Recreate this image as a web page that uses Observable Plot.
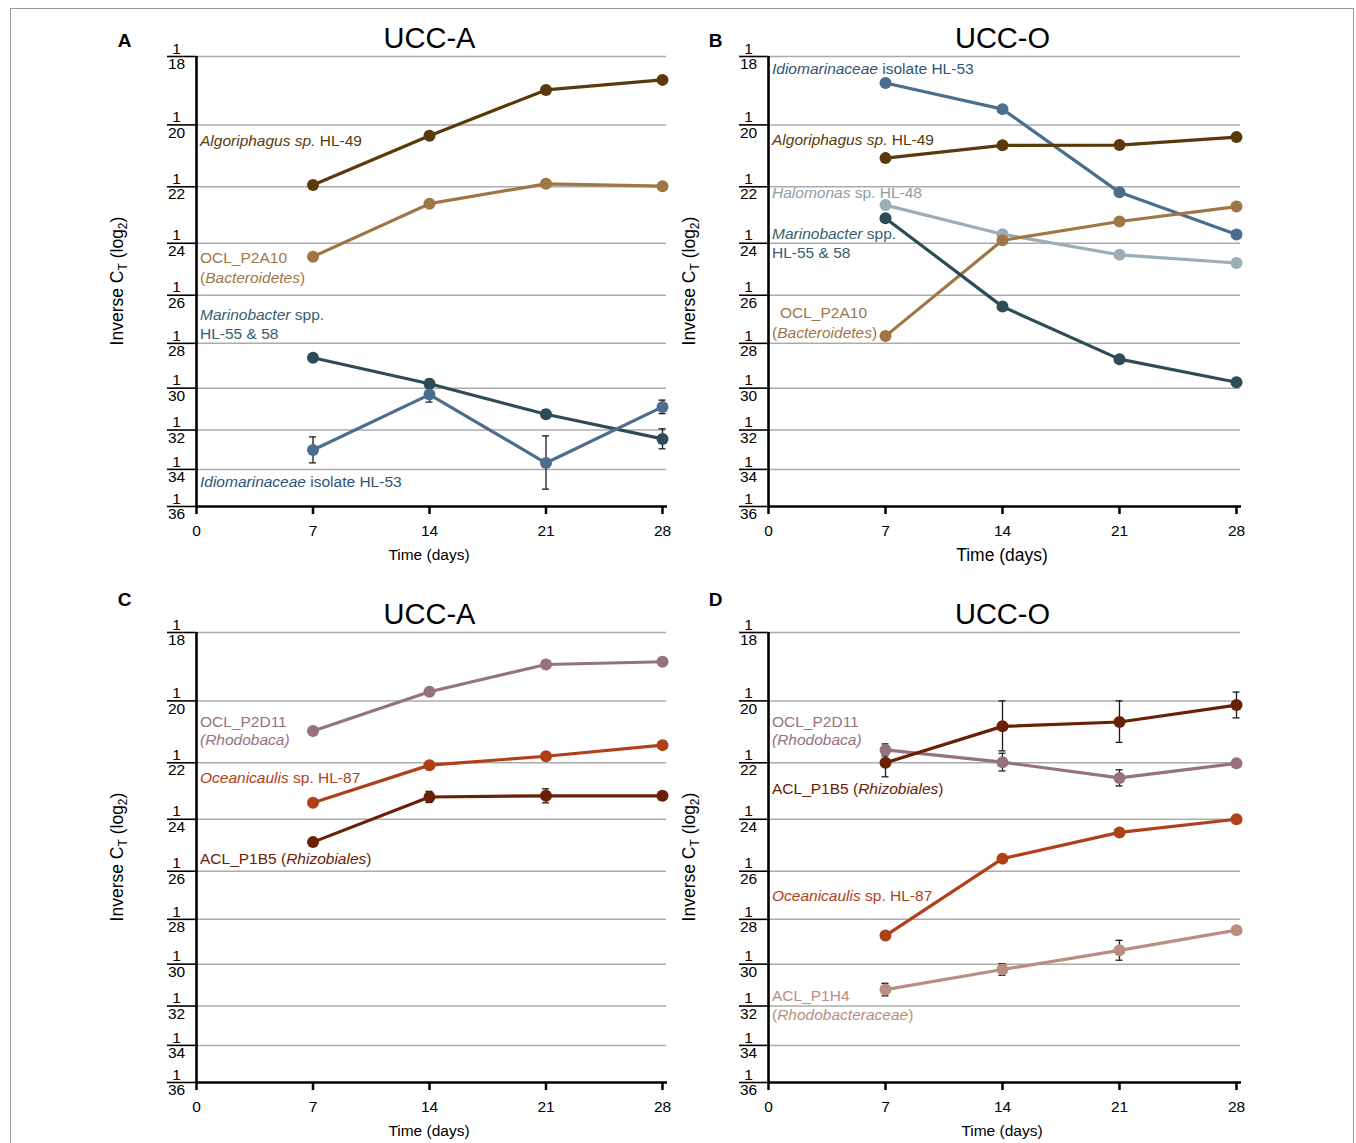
<!DOCTYPE html>
<html><head><meta charset="utf-8">
<script src="https://cdn.jsdelivr.net/npm/d3@7"></script>
<script src="https://cdn.jsdelivr.net/npm/@observablehq/plot@0.6"></script>
<style>
body{margin:0;background:#fff;}
#fig{position:relative;width:1356px;height:1143px;overflow:hidden;font-family:"Liberation Sans",Arial,sans-serif;}
#border{position:absolute;left:10px;top:8px;width:1344px;height:1170px;border:1px solid #9a9a9a;box-sizing:border-box;}
.panel{position:absolute;}
svg text{white-space:pre;}
</style></head><body><div id="fig"><div id="border"></div></div>
<script>
// ---------- data ----------
const days = [7, 14, 21, 28];
const xTicks = [0, 7, 14, 21, 28];
const ctTicks = [18, 20, 22, 24, 26, 28, 30, 32, 34, 36];

// Panel A (UCC-A) cycle threshold values
const ctA = {
  algoriphagus:   [21.94, 20.34, 18.95, 18.66],
  ocl_p2a10:      [24.50, 22.58, 21.90, 21.98],
  marinobacter:   [28.63, 29.80, 31.23, 32.44],
  idiomarinaceae: [33.00, 30.30, 33.67, 30.88]
};
const errA = {
  marinobacter:   [0, 0.2, 0.2, 0.5],
  idiomarinaceae: [0.66, 0.35, 1.38, 0.32]
};

// Panel B (UCC-O)
const ctB = {
  idiomarinaceae: [18.75, 19.52, 22.19, 23.68],
  algoriphagus:   [21.05, 20.64, 20.63, 20.38],
  halomonas:      [22.63, 23.67, 24.43, 24.74],
  ocl_p2a10:      [27.69, 23.89, 23.21, 22.68],
  marinobacter:   [23.09, 26.46, 28.69, 29.73]
};
const errB = {};

// Panel C (UCC-A)
const ctC = {
  ocl_p2d11:    [20.95, 19.72, 18.91, 18.83],
  oceanicaulis: [23.40, 22.08, 21.78, 21.41],
  acl_p1b5:     [24.86, 23.19, 23.15, 23.15]
};
const errC = {
  acl_p1b5: [0.1, 0.2, 0.25, 0.15]
};

// Panel D (UCC-O)
const ctD = {
  ocl_p2d11:    [21.57, 21.98, 22.52, 22.02],
  acl_p1b5:     [22.00, 20.80, 20.66, 20.13],
  oceanicaulis: [28.71, 25.50, 24.49, 24.00],
  acl_p1h4:     [31.20, 30.25, 29.37, 28.47]
};
const errD = {
  ocl_p2d11: [0.2, 0.3, 0.28, 0],
  acl_p1b5:  [0.48, 0.8, 0.66, 0.4],
  acl_p1h4:  [0.3, 0.27, 0.45, 0]
};

// Series labels (text parts: [string, italic]) and their Ct level
const labelsA = [
  {key: "algoriphagus", ct: 20.52, parts: [["Algoriphagus sp.", true], [" HL-49", false]]},
  {key: "ocl_p2a10", ct: 24.55, parts: [["OCL_P2A10", false]]},
  {key: "ocl_p2a10", ct: 25.34, parts: [["(", false], ["Bacteroidetes", true], [")", false]]},
  {key: "marinobacter", ct: 26.82, parts: [["Marinobacter", true], [" spp.", false]]},
  {key: "marinobacter", ct: 27.62, parts: [["HL-55 & 58", false]]},
  {key: "idiomarinaceae", ct: 34.69, parts: [["Idiomarinaceae", true], [" isolate HL-53", false]]}
];
const labelsB = [
  {key: "idiomarinaceae", ct: 18.34, parts: [["Idiomarinaceae", true], [" isolate HL-53", false]]},
  {key: "algoriphagus", ct: 20.46, parts: [["Algoriphagus sp.", true], [" HL-49", false]]},
  {key: "halomonas", ct: 22.23, parts: [["Halomonas", true], [" sp. HL-48", false]]},
  {key: "marinobacter", ct: 23.68, parts: [["Marinobacter", true], [" spp.", false]]},
  {key: "marinobacter", ct: 24.38, parts: [["HL-55 & 58", false]]},
  {key: "ocl_p2a10", ct: 26.74, indent: 8, parts: [["OCL_P2A10", false]]},
  {key: "ocl_p2a10", ct: 27.58, parts: [["(", false], ["Bacteroidetes", true], [")", false]]}
];
const labelsC = [
  {key: "ocl_p2d11", ct: 20.65, parts: [["OCL_P2D11", false]]},
  {key: "ocl_p2d11", ct: 21.26, parts: [["(Rhodobaca)", true]]},
  {key: "oceanicaulis", ct: 22.54, parts: [["Oceanicaulis", true], [" sp. HL-87", false]]},
  {key: "acl_p1b5", ct: 25.53, parts: [["ACL_P1B5 (", false], ["Rhizobiales", true], [")", false]]}
];
const labelsD = [
  {key: "ocl_p2d11", ct: 20.65, parts: [["OCL_P2D11", false]]},
  {key: "ocl_p2d11", ct: 21.26, parts: [["(Rhodobaca)", true]]},
  {key: "acl_p1b5", ct: 22.92, parts: [["ACL_P1B5 (", false], ["Rhizobiales", true], [")", false]]},
  {key: "oceanicaulis", ct: 27.03, parts: [["Oceanicaulis", true], [" sp. HL-87", false]]},
  {key: "acl_p1h4", ct: 31.53, parts: [["ACL_P1H4", false]]},
  {key: "acl_p1h4", ct: 32.47, parts: [["(", false], ["Rhodobacteraceae", true], [")", false]]}
];

// ---------- styles ----------
const colors = {
  algoriphagus: "#5a3a0a",
  ocl_p2a10: "#a07645",
  marinobacter: "#2c4c56",
  idiomarinaceae: "#4d6d8e",
  halomonas: "#9cadb5",
  ocl_p2d11: "#96717f",
  oceanicaulis: "#b0401a",
  acl_p1b5: "#6a2005",
  acl_p1h4: "#b98d7f"
};
const labelColors = Object.assign({}, colors, {idiomarinaceae: "#2f5378", marinobacter: "#35606c", halomonas: "#8a9ea8"});

const FONT = "'Liberation Sans', Arial, sans-serif";

function drawPanel(cfg) {
  const keys = Object.keys(cfg.ct);
  const rows = keys.flatMap(k => days.map((d, i) => ({key: k, day: d, ct: cfg.ct[k][i], e: (cfg.err[k] || [])[i] || 0})));
  const errRows = rows.filter(r => r.e > 0);
  const errStyle = {stroke: "#1a1a1a", strokeWidth: 1.3};
  const chart = Plot.plot({
    width: 678, height: cfg.height,
    marginLeft: cfg.ml, marginRight: cfg.mr, marginTop: 56, marginBottom: cfg.mb,
    style: {background: "transparent", fontFamily: FONT, fontSize: "15px", color: "#000", overflow: "visible"},
    x: {domain: [0, 28]},
    y: {type: "log", domain: [36, 18]},
    color: {type: "ordinal", domain: keys, range: keys.map(k => colors[k])},
    marks: [
      Plot.ruleY(ctTicks.slice(0, -1), {stroke: "#ababab", strokeWidth: 1.5, insetRight: -4}),
      Plot.axisY({ticks: ctTicks, tickSize: 29, tickPadding: -9, textAnchor: "middle", tickFormat: d => `1\n${d}`, strokeWidth: 1.6, label: null, fontSize: 15.5, lineHeight: 1.0}),
      Plot.axisX({ticks: xTicks, tickSize: 8, tickPadding: 10, strokeWidth: 2.5, label: null, fontSize: 15.5}),
      Plot.ruleX([0], {strokeWidth: 2.6}),
      Plot.ruleY([36], {strokeWidth: 2.6, insetRight: -5}),
      Plot.ruleX(errRows, {x: "day", y1: d => d.ct - d.e, y2: d => d.ct + d.e, ...errStyle}),
      Plot.ruleY(errRows, {x1: "day", x2: "day", y: d => d.ct - d.e, insetLeft: -3.5, insetRight: -3.5, ...errStyle}),
      Plot.ruleY(errRows, {x1: "day", x2: "day", y: d => d.ct + d.e, insetLeft: -3.5, insetRight: -3.5, ...errStyle}),
      Plot.line(rows, {x: "day", y: "ct", z: "key", stroke: "key", strokeWidth: 3.2}),
      Plot.dot(rows, {x: "day", y: "ct", fill: "key", r: 6}),
      Plot.text([cfg.title], {text: d => d, frameAnchor: "top", lineAnchor: "middle", dy: -18, fontSize: 29}),
      Plot.text([cfg.letter], {text: d => d, frameAnchor: "top-left", lineAnchor: "middle", dx: cfg.ldx, dy: cfg.ldy, textAnchor: "middle", fontWeight: "bold", fontSize: 19})
    ]
  });
  const svg = d3.select(chart);
  const xs = chart.scale("x"), ys = chart.scale("y");
  const bottom = cfg.height - cfg.mb;
  // y axis title
  const yt = svg.append("text")
    .attr("transform", `translate(${cfg.ml - 73},${(56 + bottom) / 2}) rotate(-90)`)
    .attr("text-anchor", "middle").attr("font-size", 17.5).attr("fill", "#000");
  yt.append("tspan").text("Inverse C");
  yt.append("tspan").attr("font-size", 12).attr("dy", 4).text("T");
  yt.append("tspan").attr("dy", -4).text(" (log");
  yt.append("tspan").attr("font-size", 12).attr("dy", 4).text("2");
  yt.append("tspan").attr("dy", -4).text(")");
  // x axis title
  svg.append("text").attr("x", (xs.apply(0) + xs.apply(28)) / 2).attr("y", bottom + 49)
    .attr("dy", "0.35em").attr("text-anchor", "middle").attr("font-size", cfg.xtSize).attr("fill", "#000")
    .text("Time (days)");
  // series labels
  for (const l of cfg.labels) {
    const t = svg.append("text").attr("x", xs.apply(0) + 4 + (l.indent || 0)).attr("y", ys.apply(l.ct))
      .attr("dy", "0.35em").attr("text-anchor", "start").attr("font-size", 15.5).attr("fill", labelColors[l.key]);
    for (const [s, it] of l.parts) t.append("tspan").attr("font-style", it ? "italic" : "normal").text(s);
  }
  const holder = document.createElement("div");
  holder.className = "panel";
  holder.style.left = cfg.left + "px";
  holder.style.top = cfg.top + "px";
  holder.appendChild(chart);
  document.getElementById("fig").appendChild(holder);
}

drawPanel({ct: ctA, err: errA, labels: labelsA, title: "UCC-A", letter: "A", left: 0, top: 0, height: 576, ml: 196, mr: 16, mb: 70, ldx: -72, ldy: -16, xtSize: 15.5});
drawPanel({ct: ctB, err: errB, labels: labelsB, title: "UCC-O", letter: "B", left: 678, top: 0, height: 576, ml: 90, mr: 120, mb: 70, ldx: -53, ldy: -16, xtSize: 17.5});
drawPanel({ct: ctC, err: errC, labels: labelsC, title: "UCC-A", letter: "C", left: 0, top: 576, height: 567, ml: 196, mr: 16, mb: 61, ldx: -72, ldy: -33, xtSize: 15.5});
drawPanel({ct: ctD, err: errD, labels: labelsD, title: "UCC-O", letter: "D", left: 678, top: 576, height: 567, ml: 90, mr: 120, mb: 61, ldx: -53, ldy: -33, xtSize: 15.5});
</script></body></html>
